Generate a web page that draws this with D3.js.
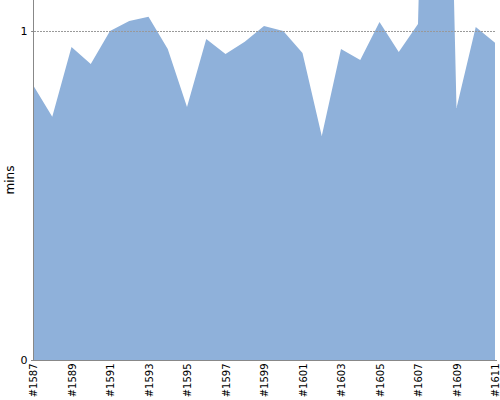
<!DOCTYPE html>
<html><head><meta charset="utf-8">
<script src="https://cdn.jsdelivr.net/npm/d3@7"></script>
<style>body{margin:0;background:#fff}svg{display:block}text{font-family:"DejaVu Sans",sans-serif}</style>
</head><body><svg id="c" width="500" height="400"></svg>
<script>
const builds = ["#1587","#1588","#1589","#1590","#1591","#1592","#1593","#1594","#1595","#1596","#1597","#1598","#1599","#1600","#1601","#1602","#1603","#1604","#1605","#1606","#1607","#1608","#1609","#1610","#1611"];
const mins = [0.836,0.739,0.951,0.900,1.000,1.030,1.043,0.945,0.769,0.976,0.930,0.967,1.015,1.000,0.933,0.681,0.945,0.912,1.027,0.936,1.021,3.3,0.766,1.012,0.964];
const yTicks = [0, 1];
const yLabel = "mins";

const svg = d3.select("#c");
const L = 33, R = 495, T = 0, B = 360;
const x = d3.scalePoint().domain(builds).range([L, R]);
const y = d3.scaleLinear().domain([0, 1.0942]).range([B, T]);

svg.append("defs").append("clipPath").attr("id","clip")
  .append("rect").attr("x",L).attr("y",T).attr("width",R-L).attr("height",B-T);

svg.append("path").datum(mins)
  .attr("clip-path","url(#clip)")
  .attr("fill","#8fb1da")
  .attr("d", d3.area().x((d,i)=>x(builds[i])).y0(y(0)).y1(d=>y(d)));

// grid
svg.append("g").selectAll("line").data(yTicks.filter(t=>t>0)).join("line")
  .attr("x1",L-2).attr("x2",R).attr("y1",d=>y(d)+0.5).attr("y2",d=>y(d)+0.5)
  .attr("stroke","#999").attr("stroke-dasharray","2,1").attr("stroke-width",1);

// y axis
const ya = svg.append("g").attr("transform",`translate(${L+0.5},0)`)
  .call(d3.axisLeft(y).tickValues(yTicks).tickSize(2).tickPadding(4).tickFormat(d3.format("d")));
ya.select(".domain").attr("stroke","#888").attr("d",`M0,${T}V${B+0.5}`);
ya.selectAll(".tick line").attr("stroke","#888");
ya.selectAll("text").attr("font-size","11px").attr("font-family","DejaVu Sans").attr("fill","#000");

// x axis
const xa = svg.append("g").attr("transform",`translate(0,${B+0.5})`)
  .call(d3.axisBottom(x).tickValues(builds.filter((d,i)=>i%2===0)).tickSize(0).tickPadding(3));
xa.select(".domain").attr("stroke","#888").attr("d",`M${L-2},0H${R+2}`);
xa.selectAll("text").attr("font-size","10px").attr("font-family","DejaVu Sans").attr("fill","#000")
  .attr("transform","rotate(-90)").attr("text-anchor","end").attr("x",-3).attr("y",0).attr("dy","0.35em")
  .attr("dx",0);

svg.append("text").attr("transform","translate(14,180) rotate(-90)")
  .attr("text-anchor","middle").attr("font-size","12px").attr("fill","#000").text(yLabel);
</script></body></html>
